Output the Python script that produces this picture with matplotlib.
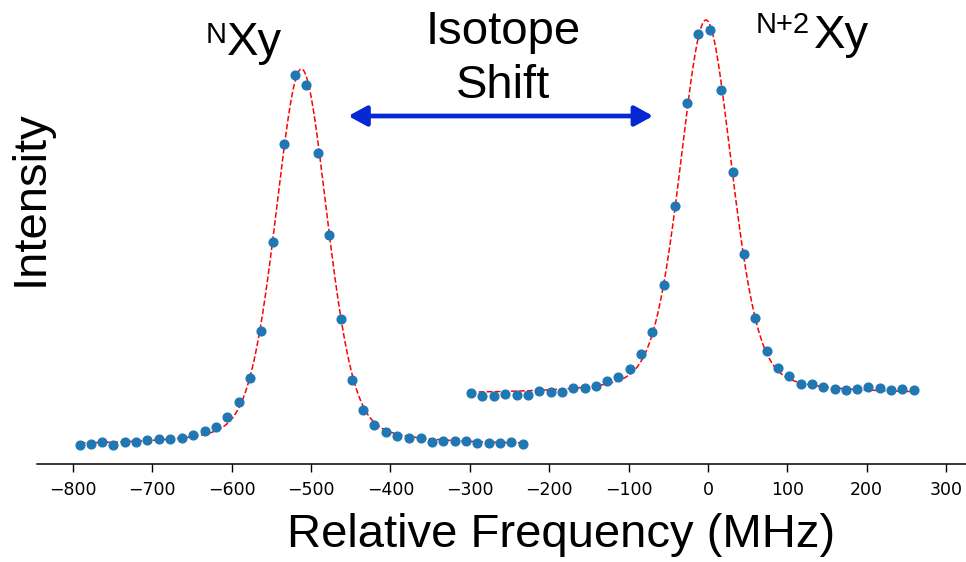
import matplotlib
matplotlib.use("Agg")
import matplotlib.pyplot as plt
import numpy as np

# Scan of the lighter isotope (MHz, arb. intensity)
freq_n = [-791, -777, -763, -749, -734, -720, -706, -691, -677, -663,
          -648, -634, -620, -606, -591, -577, -563, -548, -534, -520,
          -506, -491, -477, -462, -448, -434, -420, -405, -391, -377,
          -362, -348, -334, -319, -305, -291, -276, -262, -248, -233]
counts_n = [19.3, 19.7, 21.7, 19.3, 22.0, 21.7, 24.0, 25.0, 25.0, 25.7,
            28.7, 33.0, 37.3, 47.3, 62.0, 85.7, 133.0, 221.7, 320.3, 389.0,
            379.0, 311.0, 228.7, 144.7, 84.0, 54.0, 38.7, 31.7, 28.3, 26.3,
            25.7, 22.3, 23.0, 23.3, 23.0, 20.7, 20.7, 21.0, 21.7, 20.0]

# Scan of the heavier isotope
freq_n2 = [-299, -284, -270, -255, -241, -227, -213, -198, -184, -170,
           -155, -141, -127, -113, -98, -84, -70, -55, -41, -27,
           -13, 2, 17, 31, 45, 59, 74, 88, 102, 117,
           131, 145, 160, 174, 188, 202, 217, 231, 245, 260]
counts_n2 = [70.7, 68.0, 68.3, 70.0, 69.0, 69.0, 72.7, 72.3, 72.0, 76.0,
             76.0, 78.0, 83.3, 87.3, 95.5, 110.5, 132.3, 179.0, 257.7, 360.7,
             430.3, 434.3, 373.7, 292.3, 209.7, 146.0, 113.3, 96.2, 88.0, 80.0,
             80.0, 76.7, 75.0, 74.0, 75.3, 77.3, 76.3, 74.0, 75.3, 74.0]

# pseudo-Voigt fit results: centre, fwhm, lorentz fraction, amplitude, offset
fit_n = dict(x0=-512.0, fwhm=77.6, eta=0.30, amp=376.0, off=19.0)
fit_n2 = dict(x0=-2.5, fwhm=77.6, eta=0.30, amp=374.0, off=70.0)

xticks = [-800, -700, -600, -500, -400, -300, -200, -100, 0, 100, 200, 300]


def pseudo_voigt(x, x0, fwhm, eta, amp, off):
    hw = fwhm / 2.0
    sig = fwhm / (2.0 * np.sqrt(2.0 * np.log(2.0)))
    lor = 1.0 / (1.0 + ((x - x0) / hw) ** 2)
    gau = np.exp(-0.5 * ((x - x0) / sig) ** 2)
    return off + amp * (eta * lor + (1.0 - eta) * gau)


W, H = 966, 562
fig = plt.figure(figsize=(W / 100, H / 100), dpi=100)
ax = fig.add_axes([37 / W, (H - 464) / H, (W - 37) / W, 464 / H])

big = dict(family="Liberation Sans", color="black")

for freq, counts, fit in [(freq_n, counts_n, fit_n), (freq_n2, counts_n2, fit_n2)]:
    xf = np.linspace(freq[0], freq[-1], 600)
    ax.plot(xf, pseudo_voigt(xf, **fit), "--", color="red", lw=1.1, zorder=2)
    ax.plot(freq, counts, "o", color="#1f77b4", ms=6.3, zorder=3)

ax.set_xlim(-845, 325)
ax.set_ylim(0, 464)
ax.set_xticks(xticks)
ax.set_xticklabels([f"\u2212{abs(t)}" if t < 0 else str(t) for t in xticks])
ax.tick_params(axis="x", labelsize=12.5, length=6, width=1, pad=6)
ax.set_yticks([])
for side in ["left", "right", "top"]:
    ax.spines[side].set_visible(False)
ax.spines["bottom"].set_linewidth(1.1)

# arrow between the two peaks
ax.annotate("", xy=(-69, 348), xytext=(-453, 348),
            arrowprops=dict(arrowstyle="<|-|>,head_length=0.55,head_width=0.3",
                            color="#0528d2", lw=3.4, mutation_scale=20,
                            shrinkA=0, shrinkB=0))


def ftext(x, y, s, size, **kw):
    fig.text(x / W, 1 - y / H, s, fontsize=size, va="baseline", **big, **kw)


fig.text(31 / W, 1 - 198 / H, "Intensity", fontsize=34, rotation=90,
         ha="center", va="center", **big)
ftext(561, 547, "Relative Frequency (MHz)", 34, ha="center")

ftext(503, 44, "Isotope", 34, ha="center")
ftext(503, 98, "Shift", 34, ha="center")

ftext(206, 43, "N", 21, ha="left")
ftext(227, 55, "Xy", 34, ha="left")
ftext(756, 33, "N+2", 21, ha="left")
ftext(814, 48, "Xy", 34, ha="left")

fig.savefig("out.png", dpi=100)
